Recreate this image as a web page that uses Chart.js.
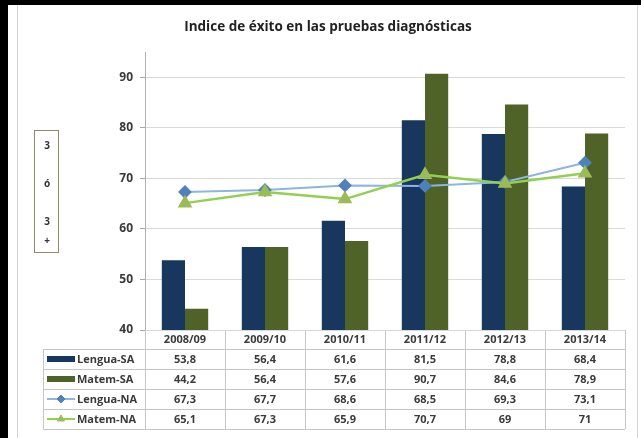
<!DOCTYPE html>
<html>
<head>
<meta charset="utf-8">
<script src="https://cdn.jsdelivr.net/npm/chart.js@4/dist/chart.umd.min.js"></script>
<style>
  html, body { margin: 0; padding: 0; background: #fff; }
  #chart { position: absolute; left: 0; top: 0; }
</style>
</head>
<body>
<canvas id="chart" width="641" height="438"></canvas>
<script>
const years = ['2008/09', '2009/10', '2010/11', '2011/12', '2012/13', '2013/14'];
const lenguaSA = [53.8, 56.4, 61.6, 81.5, 78.8, 68.4];
const matemSA = [44.2, 56.4, 57.6, 90.7, 84.6, 78.9];
const lenguaNA = [67.3, 67.7, 68.6, 68.5, 69.3, 73.1];
const matemNA = [65.1, 67.3, 65.9, 70.7, 69, 71];
const yTicks = [40, 50, 60, 70, 80, 90];
const titleText = 'Indice de éxito en las pruebas diagnósticas';
const axisTitleChars = ['3', 'ó', '3', '+'];

const FONT = '"Open Sans", "DejaVu Sans", sans-serif';
const txtColor = '#3a3a3a';
const tableLine = '#c6c6c6';

// frame, title and the odd little y-axis title box
const framePlugin = {
    id: 'frame',
    beforeDraw(chart) {
        const c = chart.ctx;
        c.save();
        c.fillStyle = '#fff';
        c.fillRect(0, 0, 641, 438);
        c.strokeStyle = '#d4d4d4';
        c.lineWidth = 1;
        c.beginPath();
        c.moveTo(17.5, 438); c.lineTo(17.5, 5);
        c.moveTo(637.5, 5); c.lineTo(637.5, 438);
        c.stroke();
        c.fillStyle = '#000';
        c.fillRect(0, 0, 641, 5);
        c.fillRect(0, 0, 8, 438);

        c.fillStyle = '#222';
        c.font = 'bold 13.5px ' + FONT;
        c.textAlign = 'center';
        c.textBaseline = 'middle';
        c.fillText(titleText, 328, 27);

        c.strokeStyle = '#8c8c6c';
        c.strokeRect(34.5, 130.5, 24, 122);
        c.font = 'bold 10px ' + FONT;
        c.fillStyle = '#333';
        const ys = [146, 184, 222, 241];
        axisTitleChars.forEach((ch, i) => c.fillText(ch, 47, ys[i]));
        c.restore();
    }
};

// data table under the plot, aligned on the category scale
const tablePlugin = {
    id: 'dataTable',
    afterDraw(chart) {
        const c = chart.ctx;
        const x = chart.scales.x;
        const area = chart.chartArea;
        const half = (x.getPixelForValue(1) - x.getPixelForValue(0)) / 2;
        const top = area.bottom;
        const rowH = 20;
        const headBottom = top + 19;
        const legLeft = 43;
        const rows = [
            { name: 'Lengua-SA', data: lenguaSA, kind: 'bar', color: '#17375E' },
            { name: 'Matem-SA', data: matemSA, kind: 'bar', color: '#4F6228' },
            { name: 'Lengua-NA', data: lenguaNA, kind: 'line', color: '#8DB4E2', mark: '#4F81BD', style: 'rectRot' },
            { name: 'Matem-NA', data: matemNA, kind: 'line', color: '#92D050', mark: '#9BBB59', style: 'triangle' }
        ];
        const bottom = headBottom + rows.length * rowH;

        c.save();
        c.strokeStyle = tableLine;
        c.lineWidth = 1;
        c.beginPath();
        for (let i = 0; i <= rows.length; i++) {
            const y = Math.round(headBottom + i * rowH) + 0.5;
            c.moveTo(legLeft, y); c.lineTo(area.right, y);
        }
        c.moveTo(legLeft + 0.5, headBottom); c.lineTo(legLeft + 0.5, bottom);
        for (let i = 0; i <= years.length; i++) {
            const px = Math.round(x.getPixelForValue(0) - half + i * 2 * half) + 0.5;
            c.moveTo(px, top); c.lineTo(px, bottom);
        }
        c.stroke();

        c.textAlign = 'center';
        c.textBaseline = 'middle';
        c.fillStyle = txtColor;
        c.font = 'bold 11px ' + FONT;
        years.forEach((yr, i) => c.fillText(yr, x.getPixelForValue(i), top + 10));

        rows.forEach((r, ri) => {
            const cy = headBottom + ri * rowH + rowH / 2;
            c.textAlign = 'center';
            c.fillStyle = txtColor;
            r.data.forEach((v, i) => c.fillText(String(v).replace('.', ','), x.getPixelForValue(i), cy + 1));
            if (r.kind === 'bar') {
                c.fillStyle = r.color;
                c.fillRect(47, cy - 3, 28, 6);
            } else {
                c.strokeStyle = r.color;
                c.lineWidth = 2;
                c.beginPath();
                c.moveTo(47, cy); c.lineTo(75, cy);
                c.stroke();
                c.fillStyle = r.mark;
                c.strokeStyle = r.mark;
                c.lineWidth = 1;
                Chart.helpers.drawPoint(c, { pointStyle: r.style, radius: 4, rotation: 0, borderWidth: 1 }, 61, cy);
            }
            c.textAlign = 'left';
            c.fillStyle = txtColor;
            c.fillText(r.name, 77, cy + 1);
        });
        c.restore();
    }
};

const ctx = document.getElementById('chart').getContext('2d');
const chart = new Chart(ctx, {
    type: 'bar',
    data: {
        labels: years,
        datasets: [{
            label: 'Lengua-SA',
            data: lenguaSA,
            backgroundColor: '#17375E',
            order: 2
        }, {
            label: 'Matem-SA',
            data: matemSA,
            backgroundColor: '#4F6228',
            order: 2
        }, {
            type: 'line',
            label: 'Lengua-NA',
            data: lenguaNA,
            borderColor: '#8DB4E2',
            borderWidth: 2,
            pointStyle: 'rectRot',
            pointRadius: 5.5,
            pointBackgroundColor: '#4F81BD',
            pointBorderColor: '#4F81BD',
            tension: 0,
            order: 1
        }, {
            type: 'line',
            label: 'Matem-NA',
            data: matemNA,
            borderColor: '#92D050',
            borderWidth: 2.5,
            pointStyle: 'triangle',
            pointRadius: 6,
            pointBackgroundColor: '#9BBB59',
            pointBorderColor: '#9BBB59',
            tension: 0,
            order: 0
        }]
    },
    options: {
        responsive: false,
        animation: false,
        layout: { padding: { top: 52, bottom: 108, right: 16, left: 0 } },
        datasets: {
            bar: { categoryPercentage: 0.58, barPercentage: 1.0 }
        },
        plugins: {
            legend: { display: false },
            title: { display: false },
            tooltip: { enabled: false }
        },
        scales: {
            x: { display: false },
            y: {
                min: 40,
                max: 95,
                afterFit(scale) { scale.width = 145; },
                afterBuildTicks(scale) {
                    scale.ticks = yTicks.map(v => ({ value: v }));
                },
                ticks: {
                    padding: 7,
                    color: txtColor,
                    font: { family: FONT, size: 12, weight: 'bold' }
                },
                grid: {
                    color: '#d9d9d9',
                    tickLength: 5,
                    tickColor: '#a6a6a6'
                },
                border: { color: '#b0b0b0' }
            }
        }
    },
    plugins: [framePlugin, tablePlugin]
});
</script>
</body>
</html>
